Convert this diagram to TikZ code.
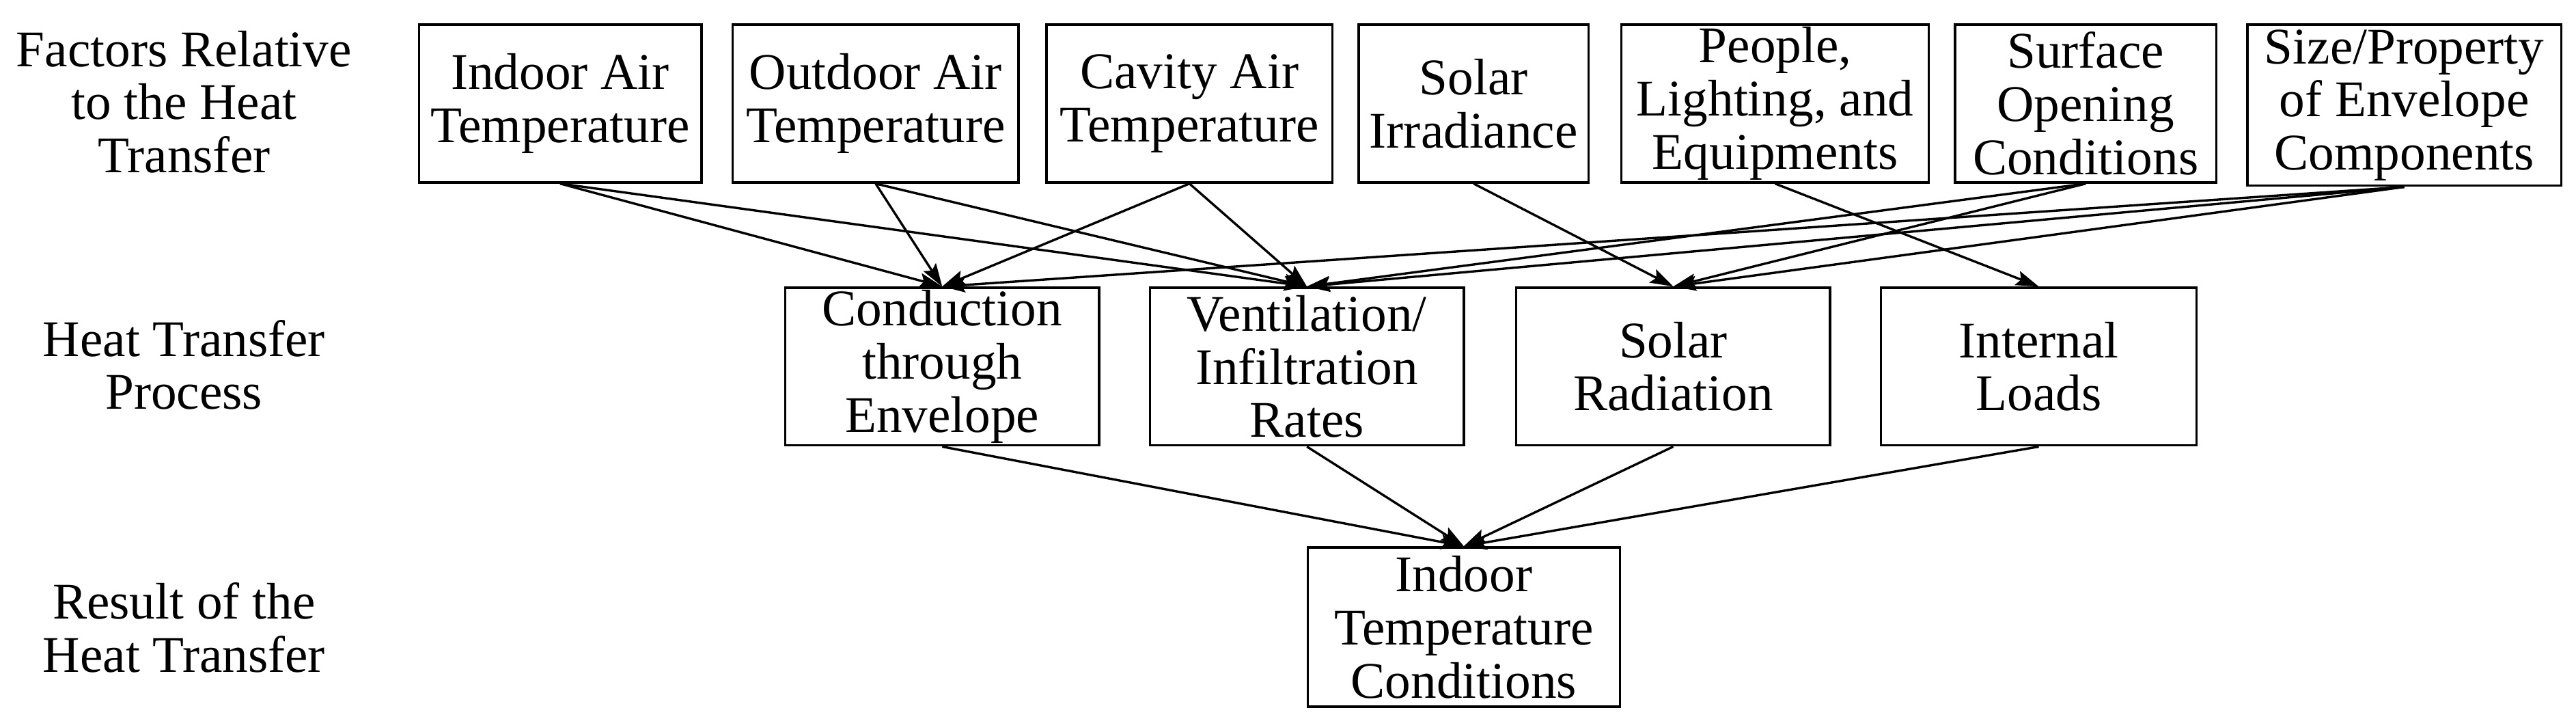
\documentclass[tikz,border=0pt]{standalone}
\usepackage{fontspec}
\setmainfont{Liberation Serif}
\usetikzlibrary{arrows.meta}

\begin{document}
\begin{tikzpicture}[x=0.1mm, y=-0.1mm,
  box/.style={draw, align=center, inner sep=0pt, minimum height=9.6mm, font=\fontsize{8.9}{9.2}\selectfont},
  lab/.style={align=center, font=\fontsize{8.9}{9.2}\selectfont},
  arr/.style={-{Stealth[length=1.4mm, width=0.9mm, inset=0.25mm]}}]

  \useasboundingbox (0,0) rectangle (1568,437);

  \node[lab] (factors) at (112,62) {Factors Relative\\to the Heat\\Transfer};
  \node[lab] (process) at (112,222) {Heat Transfer\\Process};
  \node[lab] (result) at (112,382) {Result of the\\Heat Transfer};

  % factors
  \node[box, minimum width=17.2mm] (indoor) at (341,63) {Indoor Air\\Temperature};
  \node[box, minimum width=17.4mm] (outdoor) at (533,63) {Outdoor Air\\Temperature};
  \node[box, minimum width=17.4mm] (cavity) at (724,63) {Cavity Air\\Temperature};
  \node[box, minimum width=14.0mm] (irrad) at (897,63) {Solar\\Irradiance};
  \node[box, minimum width=18.7mm] (people) at (1080.5,63) {People,\\Lighting, and\\Equipments};
  \node[box, minimum width=15.9mm] (opening) at (1269.5,63) {Surface\\Opening\\Conditions};
  \node[box, minimum width=19.1mm, minimum height=9.8mm] (envelope) at (1463.5,64) {Size/Property\\of Envelope\\Components};

  % processes
  \node[box, minimum width=19.1mm] (conduct) at (573.5,223) {Conduction\\through\\Envelope};
  \node[box, minimum width=19.1mm] (vent) at (795.5,223) {Ventilation/\\Infiltration\\Rates};
  \node[box, minimum width=19.1mm] (radiation) at (1018.5,223) {Solar\\Radiation};
  \node[box, minimum width=19.2mm] (loads) at (1241,223) {Internal\\Loads};

  % result
  \node[box, minimum width=19.0mm, minimum height=9.7mm] (indoortemp) at (891,381.5) {Indoor\\Temperature\\Conditions};

  \draw[arr] (indoor.south) -- (conduct.north);
  \draw[arr] (indoor.south) -- (vent.north);
  \draw[arr] (outdoor.south) -- (conduct.north);
  \draw[arr] (outdoor.south) -- (vent.north);
  \draw[arr] (cavity.south) -- (conduct.north);
  \draw[arr] (cavity.south) -- (vent.north);
  \draw[arr] (irrad.south) -- (radiation.north);
  \draw[arr] (people.south) -- (loads.north);
  \draw[arr] (opening.south) -- (vent.north);
  \draw[arr] (opening.south) -- (radiation.north);
  \draw[arr] (envelope.south) -- (conduct.north);
  \draw[arr] (envelope.south) -- (vent.north);
  \draw[arr] (envelope.south) -- (radiation.north);

  \draw[arr] (conduct.south) -- (indoortemp.north);
  \draw[arr] (vent.south) -- (indoortemp.north);
  \draw[arr] (radiation.south) -- (indoortemp.north);
  \draw[arr] (loads.south) -- (indoortemp.north);

\end{tikzpicture}
\end{document}
